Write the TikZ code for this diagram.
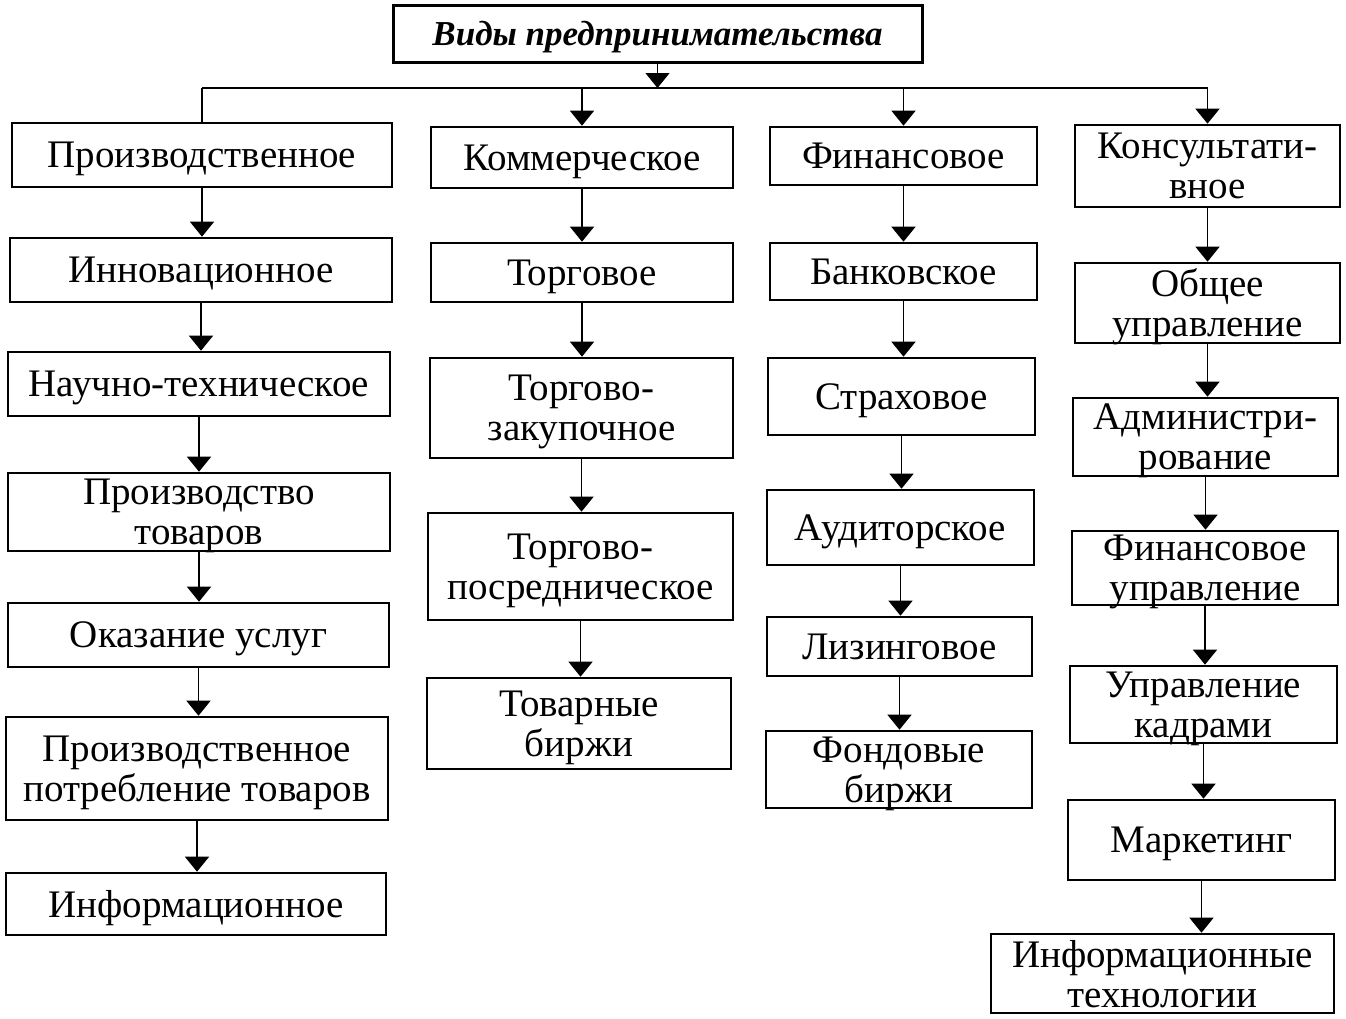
\documentclass[tikz,border=0pt]{standalone}
\usepackage{fontspec}
\setmainfont{Liberation Serif}
\usetikzlibrary{arrows.meta}
\begin{document}
\begin{tikzpicture}[x=1pt,y=-1pt,
  box/.style={draw,line width=2.6pt,inner sep=0pt,align=center,text depth=0pt,font=\fontsize{39}{40}\selectfont},
  conn/.style={line width=1.4pt},
  arr/.style={line width=1.4pt,-{Triangle[width=24pt,length=15pt]}}]
\useasboundingbox (0,0) rectangle (1346,1018);
% title
\node[box,line width=3pt,minimum width=529pt,minimum height=57pt,font=\fontsize{35}{38}\selectfont\bfseries\itshape] (t) at (657.5,33.5) {Виды предпринимательства};
% column 1
\node[box,minimum width=380pt,minimum height=64pt] (a1) at (202,155) {Производственное};
\node[box,minimum width=382pt,minimum height=64pt] (a2) at (201,270) {Инновационное};
\node[box,minimum width=382pt,minimum height=64pt] (a3) at (199,384) {Научно-техническое};
\node[box,minimum width=382pt,minimum height=78pt] (a4) at (199,512) {Производство\\товаров};
\node[box,minimum width=381pt,minimum height=64pt] (a5) at (198.5,635) {Оказание услуг};
\node[box,minimum width=382pt,minimum height=103pt] (a6) at (197,768.5) {Производственное\\потребление товаров};
\node[box,minimum width=380pt,minimum height=62pt] (a7) at (196,904) {Информационное};
% column 2
\node[box,minimum width=302pt,minimum height=61pt] (b1) at (582,157.5) {Коммерческое};
\node[box,minimum width=302pt,minimum height=59pt] (b2) at (582,272.5) {Торговое};
\node[box,minimum width=303pt,minimum height=100pt] (b3) at (581.5,408) {Торгово-\\закупочное};
\node[box,minimum width=305pt,minimum height=107pt] (b4) at (580.5,566.5) {Торгово-\\посредническое};
\node[box,minimum width=304pt,minimum height=91pt] (b5) at (579,723.5) {Товарные\\биржи};
% column 3
\node[box,minimum width=267pt,minimum height=58pt] (c1) at (903.5,156) {Финансовое};
\node[box,minimum width=267pt,minimum height=57pt] (c2) at (903.5,271.5) {Банковское};
\node[box,minimum width=267pt,minimum height=77pt] (c3) at (901.5,396.5) {Страховое};
\node[box,minimum width=267pt,minimum height=75pt] (c4) at (900.5,527.5) {Аудиторское};
\node[box,minimum width=265pt,minimum height=59pt] (c5) at (899.5,646.5) {Лизинговое};
\node[box,minimum width=266pt,minimum height=77pt] (c6) at (899,769.5) {Фондовые\\биржи};
% column 4
\node[box,minimum width=265pt,minimum height=82pt] (d1) at (1207.5,166) {Консультати-\\вное};
\node[box,minimum width=265pt,minimum height=80pt] (d2) at (1207.5,303) {Общее\\управление};
\node[box,minimum width=265pt,minimum height=78pt] (d3) at (1205.5,437) {Администри-\\рование};
\node[box,minimum width=266pt,minimum height=74pt] (d4) at (1205,568) {Финансовое\\управление};
\node[box,minimum width=267pt,minimum height=77pt] (d5) at (1203.5,704.5) {Управление\\кадрами};
\node[box,minimum width=267pt,minimum height=80pt] (d6) at (1201.5,840) {Маркетинг};
\node[box,minimum width=343pt,minimum height=79pt] (d7) at (1162.5,973.5) {Информационные\\технологии};
% top connectors
\coordinate (hl) at (203,88);
\draw[arr] (t.south) -- (t.south |- hl);
\draw[conn] (a1.north |- hl) -- (d1.north |- hl);
\draw[conn] (a1.north |- hl) -- (a1.north);
\draw[arr] (b1.north |- hl) -- (b1.north);
\draw[arr] (c1.north |- hl) -- (c1.north);
\draw[arr] (d1.north |- hl) -- (d1.north);
% column arrows
\foreach \u/\v in {a1/a2,a2/a3,a3/a4,a4/a5,a5/a6,a6/a7,b1/b2,b2/b3,b3/b4,b4/b5,c1/c2,c2/c3,c3/c4,c4/c5,c5/c6,d1/d2,d2/d3,d3/d4,d4/d5,d5/d6,d6/d7}
  \draw[arr] (\u.south) -- (\u.south |- \v.north);
\end{tikzpicture}
\end{document}
